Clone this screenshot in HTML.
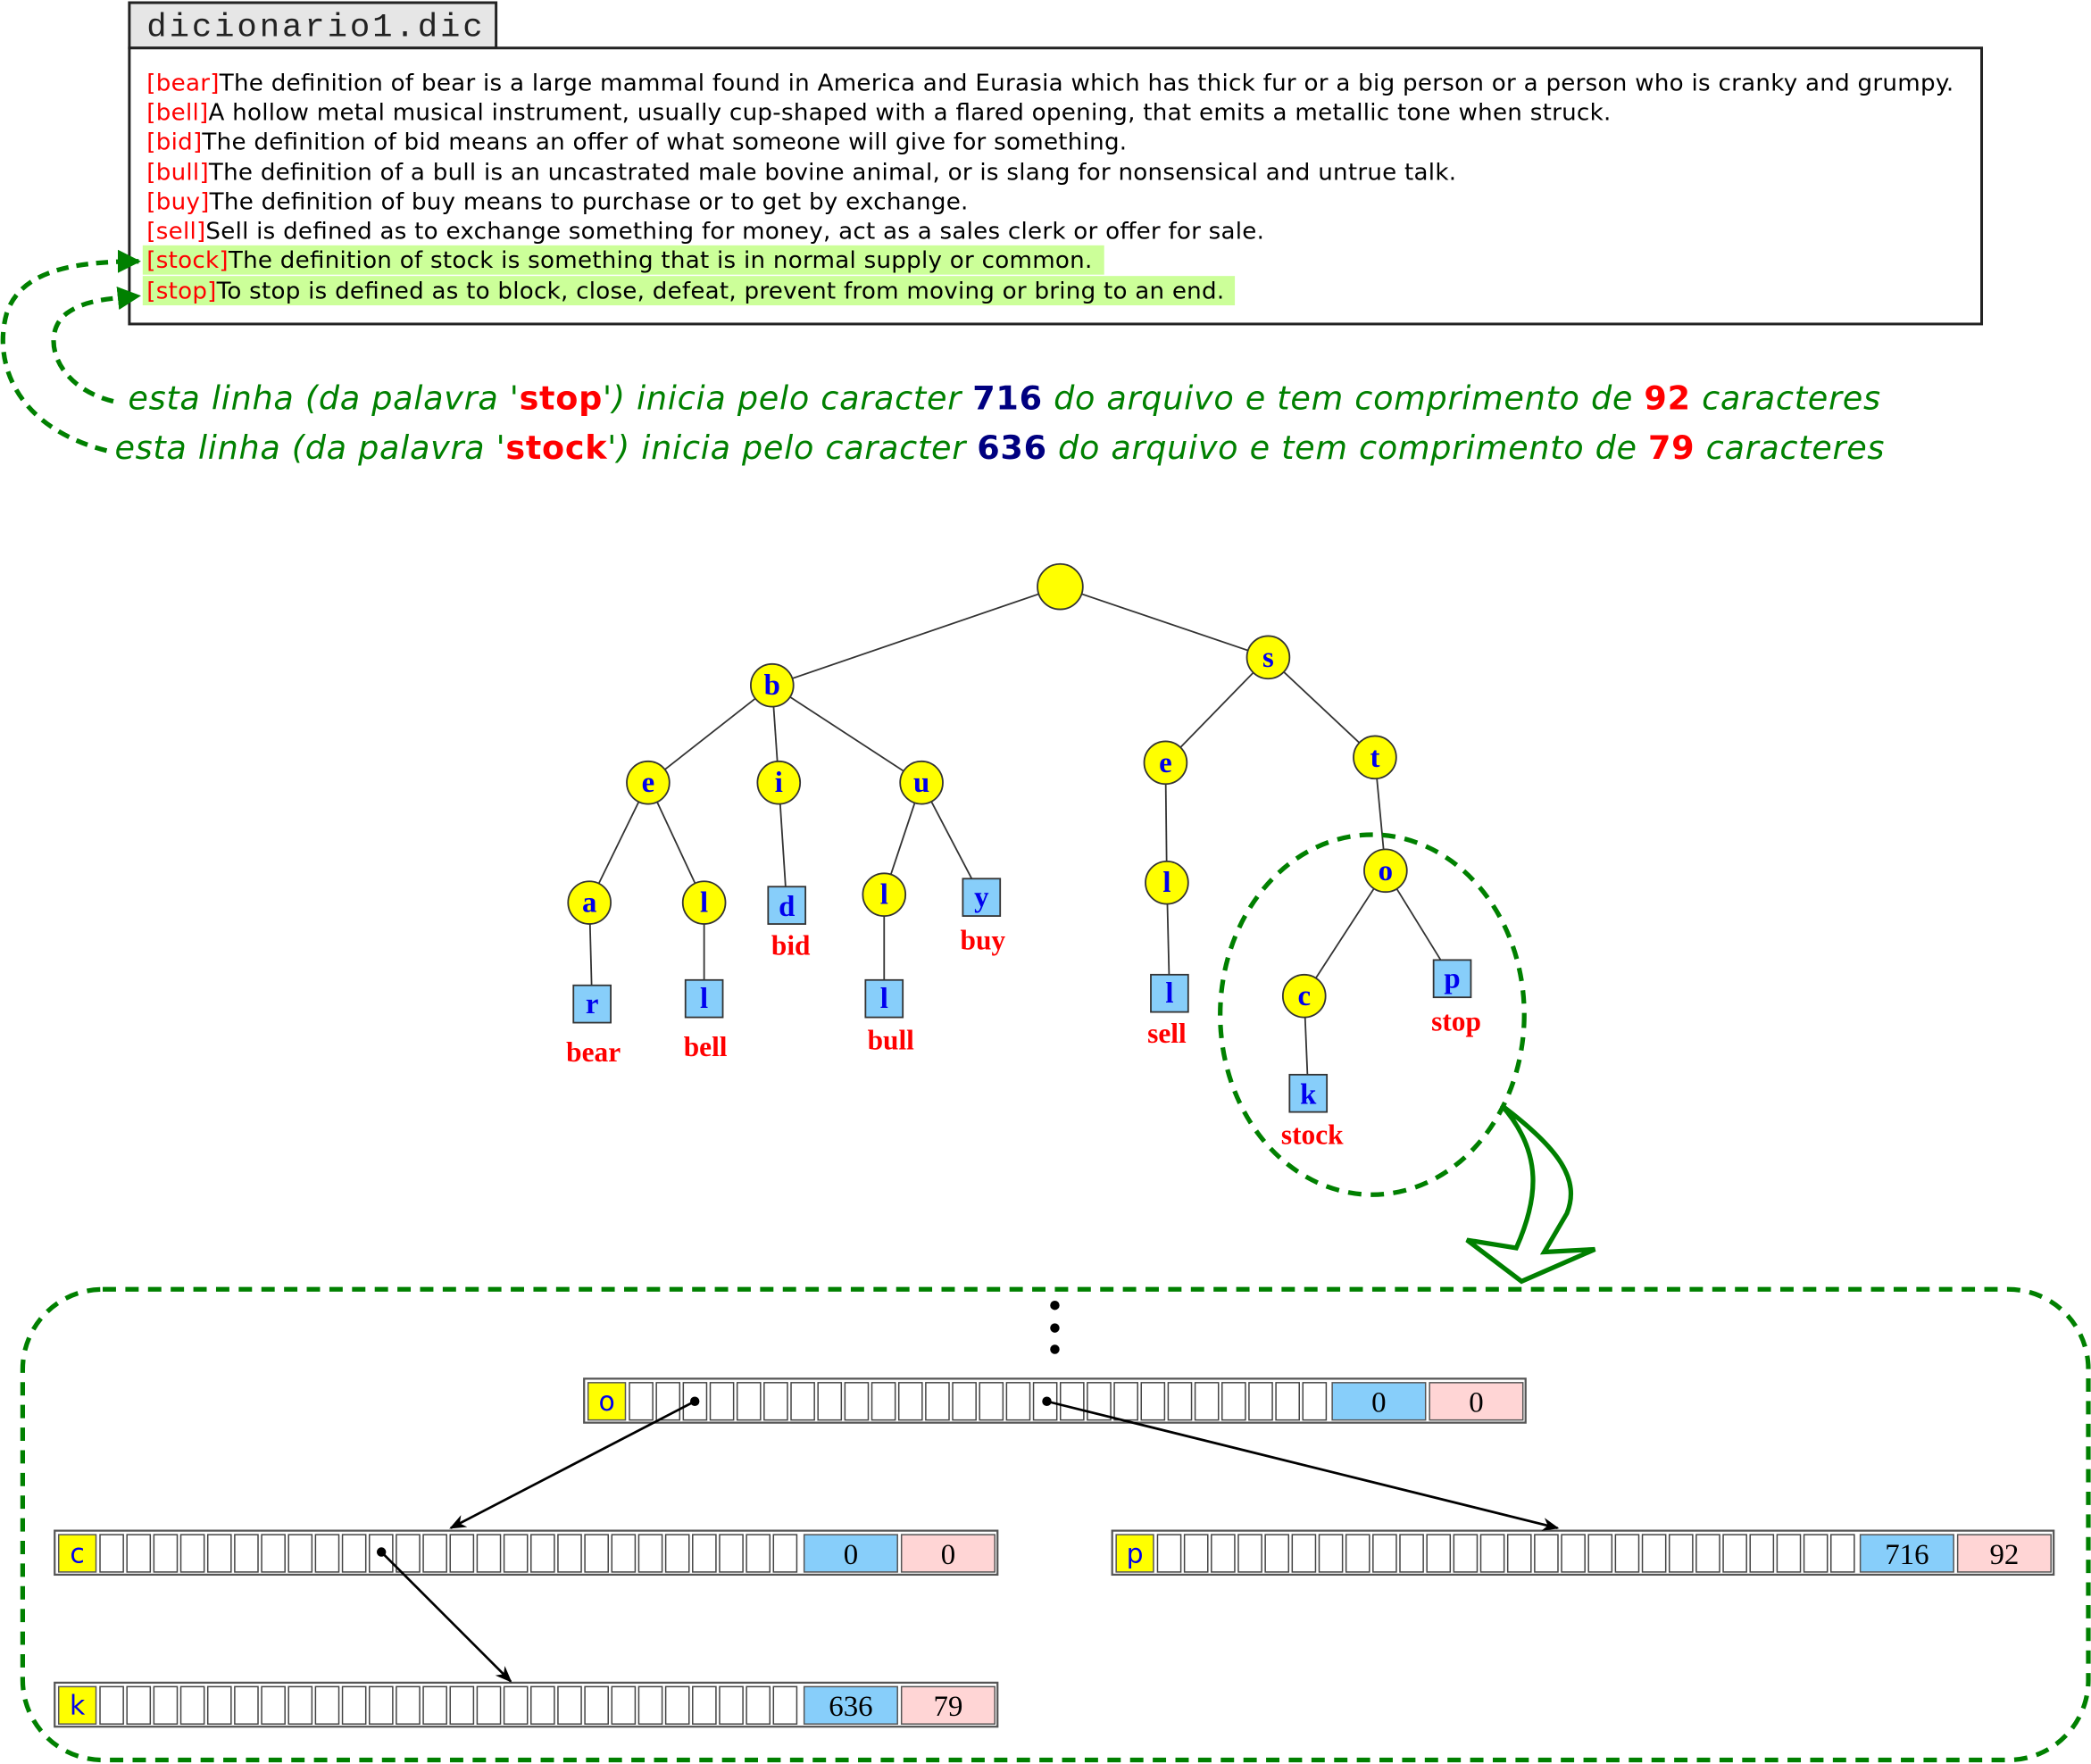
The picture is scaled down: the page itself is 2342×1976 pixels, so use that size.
<!DOCTYPE html>
<html><head><meta charset="utf-8"><style>html,body{margin:0;padding:0;background:#fff}svg{display:block}</style></head><body>
<svg xmlns="http://www.w3.org/2000/svg" width="2342" height="1976" viewBox="0 0 1568 1323" preserveAspectRatio="none">
<defs>
<marker id="ga" viewBox="0 0 10 10" refX="9" refY="5" markerWidth="5" markerHeight="5" orient="auto"><path d="M0,0 L10,5 L0,10 Z" fill="#008000"/></marker>
<marker id="ba" viewBox="0 0 10 10" refX="9" refY="5" markerWidth="7" markerHeight="7" orient="auto"><path d="M0,1 L10,5 L0,9 L3,5 Z" fill="#000"/></marker>
</defs>
<rect width="1568" height="1323" fill="#fff"/>
<rect x="97" y="2" width="275" height="34" fill="#e6e6e6" stroke="#222" stroke-width="2"/>
<text x="110" y="27" font-family="Liberation Mono, monospace" font-size="25" fill="#222" textLength="252">dicionario1.dic</text>
<rect x="97" y="36" width="1389" height="207" fill="#fff" stroke="#222" stroke-width="2"/>
<rect x="107" y="184" width="721" height="22" fill="#ccff99"/>
<rect x="107" y="207" width="819" height="22" fill="#ccff99"/>
<g font-family="DejaVu Sans, sans-serif" font-size="17.5" fill="#000">
<text x="110" y="68" textLength="1355"><tspan fill="#f00">[bear]</tspan>The definition of bear is a large mammal found in America and Eurasia which has thick fur or a big person or a person who is cranky and grumpy.</text>
<text x="110" y="90" textLength="1098"><tspan fill="#f00">[bell]</tspan>A hollow metal musical instrument, usually cup-shaped with a flared opening, that emits a metallic tone when struck.</text>
<text x="110" y="112" textLength="735"><tspan fill="#f00">[bid]</tspan>The definition of bid means an offer of what someone will give for something.</text>
<text x="110" y="135" textLength="982"><tspan fill="#f00">[bull]</tspan>The definition of a bull is an uncastrated male bovine animal, or is slang for nonsensical and untrue talk.</text>
<text x="110" y="157" textLength="616"><tspan fill="#f00">[buy]</tspan>The definition of buy means to purchase or to get by exchange.</text>
<text x="110" y="179" textLength="838"><tspan fill="#f00">[sell]</tspan>Sell is defined as to exchange something for money, act as a sales clerk or offer for sale.</text>
<text x="110" y="201" textLength="709"><tspan fill="#f00">[stock]</tspan>The definition of stock is something that is in normal supply or common.</text>
<text x="110" y="224" textLength="808"><tspan fill="#f00">[stop]</tspan>To stop is defined as to block, close, defeat, prevent from moving or bring to an end.</text>
</g>
<path d="M85,301 C40,290 30,250 50,235 C65,224 85,224 104,222" fill="none" stroke="#008000" stroke-width="3.5" stroke-dasharray="9,6" marker-end="url(#ga)"/>
<path d="M80,338 C10,320 -5,270 5,235 C15,205 50,196 104,196" fill="none" stroke="#008000" stroke-width="3.5" stroke-dasharray="9,6" marker-end="url(#ga)"/>
<g font-family="DejaVu Sans, sans-serif" font-size="24.5" font-style="italic" fill="#008000">
<text x="96" y="307" textLength="1314">esta linha (da palavra '<tspan fill="#f00" font-weight="bold" font-style="normal">stop</tspan>') inicia pelo caracter <tspan fill="#000080" font-weight="bold" font-style="normal">716</tspan> do arquivo e tem comprimento de <tspan fill="#f00" font-weight="bold" font-style="normal">92</tspan> caracteres</text>
<text x="86" y="344" textLength="1327">esta linha (da palavra '<tspan fill="#f00" font-weight="bold" font-style="normal">stock</tspan>') inicia pelo caracter <tspan fill="#000080" font-weight="bold" font-style="normal">636</tspan> do arquivo e tem comprimento de <tspan fill="#f00" font-weight="bold" font-style="normal">79</tspan> caracteres</text>
</g>
<g stroke="#333" stroke-width="1.2">
<line x1="795" y1="440" x2="579" y2="514"/><line x1="795" y1="440" x2="951" y2="493"/>
<line x1="579" y1="514" x2="486" y2="587"/><line x1="579" y1="514" x2="584" y2="587"/><line x1="579" y1="514" x2="691" y2="587"/>
<line x1="951" y1="493" x2="874" y2="572"/><line x1="951" y1="493" x2="1031" y2="568"/>
<line x1="486" y1="587" x2="442" y2="677"/><line x1="486" y1="587" x2="528" y2="677"/>
<line x1="584" y1="587" x2="590" y2="679"/>
<line x1="691" y1="587" x2="663" y2="671"/><line x1="691" y1="587" x2="736" y2="673"/>
<line x1="874" y1="572" x2="875" y2="662"/><line x1="1031" y1="568" x2="1039" y2="653"/>
<line x1="442" y1="677" x2="444" y2="753"/><line x1="528" y1="677" x2="528" y2="749"/>
<line x1="663" y1="671" x2="663" y2="749"/><line x1="875" y1="662" x2="877" y2="745"/>
<line x1="1039" y1="653" x2="978" y2="747"/><line x1="1039" y1="653" x2="1089" y2="734"/>
<line x1="978" y1="747" x2="981" y2="820"/>
</g>
<g fill="#ffff00" stroke="#333" stroke-width="1.2">
<circle cx="795" cy="440" r="17"/><circle cx="579" cy="514" r="16"/><circle cx="951" cy="493" r="16"/>
<circle cx="486" cy="587" r="16"/><circle cx="584" cy="587" r="16"/><circle cx="691" cy="587" r="16"/>
<circle cx="874" cy="572" r="16"/><circle cx="1031" cy="568" r="16"/>
<circle cx="442" cy="677" r="16"/><circle cx="528" cy="677" r="16"/><circle cx="663" cy="671" r="16"/>
<circle cx="875" cy="662" r="16"/><circle cx="1039" cy="653" r="16"/><circle cx="978" cy="747" r="16"/>
</g>
<g fill="#87cefa" stroke="#333" stroke-width="1.2">
<rect x="576" y="665" width="28" height="28"/><rect x="722" y="659" width="28" height="28"/>
<rect x="430" y="739" width="28" height="28"/><rect x="514" y="735" width="28" height="28"/>
<rect x="649" y="735" width="28" height="28"/><rect x="863" y="731" width="28" height="28"/>
<rect x="1075" y="720" width="28" height="28"/><rect x="967" y="806" width="28" height="28"/>
</g>
<g font-family="Liberation Serif, serif" font-weight="bold" font-size="22" fill="#0000ee" text-anchor="middle">
<text x="579" y="521">b</text><text x="951" y="500">s</text><text x="486" y="594">e</text><text x="584" y="594">i</text><text x="691" y="594">u</text>
<text x="874" y="579">e</text><text x="1031" y="575">t</text><text x="442" y="684">a</text><text x="528" y="684">l</text><text x="663" y="678">l</text>
<text x="875" y="669">l</text><text x="1039" y="660">o</text><text x="978" y="754">c</text>
<text x="590" y="687">d</text><text x="736" y="680">y</text><text x="444" y="760">r</text><text x="528" y="756">l</text>
<text x="663" y="756">l</text><text x="877" y="752">l</text><text x="1089" y="741">p</text><text x="981" y="828">k</text>
</g>
<g font-family="Liberation Serif, serif" font-weight="bold" font-size="21" fill="#f00" text-anchor="middle">
<text x="445" y="796">bear</text><text x="529" y="792">bell</text><text x="593" y="716">bid</text><text x="737" y="712">buy</text>
<text x="668" y="787">bull</text><text x="875" y="782">sell</text><text x="1092" y="773">stop</text><text x="984" y="858">stock</text>
</g>
<ellipse cx="1029" cy="761" rx="114" ry="135" fill="none" stroke="#008000" stroke-width="3.5" stroke-dasharray="10,7"/>
<path d="M1126,829 C1170,862 1185,885 1175,910 L1158,939 L1196,937 L1141,961 L1100,930 L1137,936 C1153,900 1158,865 1126,829 Z" fill="#fff" stroke="#008000" stroke-width="3.5" stroke-linejoin="miter"/>
<rect x="17" y="967" width="1549" height="353" rx="60" fill="none" stroke="#008000" stroke-width="3.5" stroke-dasharray="10,7"/>
<circle cx="791" cy="979" r="3.5"/><circle cx="791" cy="996" r="3.5"/><circle cx="791" cy="1012" r="3.5"/>
<g font-family="Liberation Serif, serif" font-size="22" text-anchor="middle">
<rect x="438" y="1034" width="706" height="33" fill="#fff" stroke="#555" stroke-width="1.5"/>
<rect x="441" y="1037" width="28" height="28" fill="#ff0" stroke="#555"/>
<text x="455" y="1058" fill="#00e" font-family="DejaVu Sans, sans-serif" font-size="20">o</text>
<rect x="999" y="1037" width="70" height="28" fill="#87cefa" stroke="#555"/>
<rect x="1072" y="1037" width="70" height="28" fill="#ffd5d5" stroke="#555"/>
<text x="1034" y="1059">0</text><text x="1107" y="1059">0</text>
<rect x="41" y="1148" width="707" height="33" fill="#fff" stroke="#555" stroke-width="1.5"/>
<rect x="44" y="1151" width="28" height="28" fill="#ff0" stroke="#555"/>
<text x="58" y="1172" fill="#00e" font-family="DejaVu Sans, sans-serif" font-size="20">c</text>
<rect x="603" y="1151" width="70" height="28" fill="#87cefa" stroke="#555"/>
<rect x="676" y="1151" width="70" height="28" fill="#ffd5d5" stroke="#555"/>
<text x="638" y="1173">0</text><text x="711" y="1173">0</text>
<rect x="834" y="1148" width="706" height="33" fill="#fff" stroke="#555" stroke-width="1.5"/>
<rect x="837" y="1151" width="28" height="28" fill="#ff0" stroke="#555"/>
<text x="851" y="1172" fill="#00e" font-family="DejaVu Sans, sans-serif" font-size="20">p</text>
<rect x="1395" y="1151" width="70" height="28" fill="#87cefa" stroke="#555"/>
<rect x="1468" y="1151" width="70" height="28" fill="#ffd5d5" stroke="#555"/>
<text x="1430" y="1173">716</text><text x="1503" y="1173">92</text>
<rect x="41" y="1262" width="707" height="33" fill="#fff" stroke="#555" stroke-width="1.5"/>
<rect x="44" y="1265" width="28" height="28" fill="#ff0" stroke="#555"/>
<text x="58" y="1286" fill="#00e" font-family="DejaVu Sans, sans-serif" font-size="20">k</text>
<rect x="603" y="1265" width="70" height="28" fill="#87cefa" stroke="#555"/>
<rect x="676" y="1265" width="70" height="28" fill="#ffd5d5" stroke="#555"/>
<text x="638" y="1287">636</text><text x="711" y="1287">79</text>
</g>
<g fill="#fff" stroke="#444" stroke-width="1">
<rect x="472.0" y="1037" width="17.5" height="28"/><rect x="492.2" y="1037" width="17.5" height="28"/><rect x="512.4" y="1037" width="17.5" height="28"/><rect x="532.6" y="1037" width="17.5" height="28"/><rect x="552.8" y="1037" width="17.5" height="28"/><rect x="573.0" y="1037" width="17.5" height="28"/><rect x="593.2" y="1037" width="17.5" height="28"/><rect x="613.4" y="1037" width="17.5" height="28"/><rect x="633.6" y="1037" width="17.5" height="28"/><rect x="653.8" y="1037" width="17.5" height="28"/><rect x="674.0" y="1037" width="17.5" height="28"/><rect x="694.2" y="1037" width="17.5" height="28"/><rect x="714.4" y="1037" width="17.5" height="28"/><rect x="734.6" y="1037" width="17.5" height="28"/><rect x="754.8" y="1037" width="17.5" height="28"/><rect x="775.0" y="1037" width="17.5" height="28"/><rect x="795.2" y="1037" width="17.5" height="28"/><rect x="815.4" y="1037" width="17.5" height="28"/><rect x="835.6" y="1037" width="17.5" height="28"/><rect x="855.8" y="1037" width="17.5" height="28"/><rect x="876.0" y="1037" width="17.5" height="28"/><rect x="896.2" y="1037" width="17.5" height="28"/><rect x="916.4" y="1037" width="17.5" height="28"/><rect x="936.6" y="1037" width="17.5" height="28"/><rect x="956.8" y="1037" width="17.5" height="28"/><rect x="977.0" y="1037" width="17.5" height="28"/>
<rect x="75.0" y="1151" width="17.5" height="28"/><rect x="95.2" y="1151" width="17.5" height="28"/><rect x="115.4" y="1151" width="17.5" height="28"/><rect x="135.6" y="1151" width="17.5" height="28"/><rect x="155.8" y="1151" width="17.5" height="28"/><rect x="176.0" y="1151" width="17.5" height="28"/><rect x="196.2" y="1151" width="17.5" height="28"/><rect x="216.4" y="1151" width="17.5" height="28"/><rect x="236.6" y="1151" width="17.5" height="28"/><rect x="256.8" y="1151" width="17.5" height="28"/><rect x="277.0" y="1151" width="17.5" height="28"/><rect x="297.2" y="1151" width="17.5" height="28"/><rect x="317.4" y="1151" width="17.5" height="28"/><rect x="337.6" y="1151" width="17.5" height="28"/><rect x="357.8" y="1151" width="17.5" height="28"/><rect x="378.0" y="1151" width="17.5" height="28"/><rect x="398.2" y="1151" width="17.5" height="28"/><rect x="418.4" y="1151" width="17.5" height="28"/><rect x="438.6" y="1151" width="17.5" height="28"/><rect x="458.8" y="1151" width="17.5" height="28"/><rect x="479.0" y="1151" width="17.5" height="28"/><rect x="499.2" y="1151" width="17.5" height="28"/><rect x="519.4" y="1151" width="17.5" height="28"/><rect x="539.6" y="1151" width="17.5" height="28"/><rect x="559.8" y="1151" width="17.5" height="28"/><rect x="580.0" y="1151" width="17.5" height="28"/>
<rect x="868.0" y="1151" width="17.5" height="28"/><rect x="888.2" y="1151" width="17.5" height="28"/><rect x="908.4" y="1151" width="17.5" height="28"/><rect x="928.6" y="1151" width="17.5" height="28"/><rect x="948.8" y="1151" width="17.5" height="28"/><rect x="969.0" y="1151" width="17.5" height="28"/><rect x="989.2" y="1151" width="17.5" height="28"/><rect x="1009.4" y="1151" width="17.5" height="28"/><rect x="1029.6" y="1151" width="17.5" height="28"/><rect x="1049.8" y="1151" width="17.5" height="28"/><rect x="1070.0" y="1151" width="17.5" height="28"/><rect x="1090.2" y="1151" width="17.5" height="28"/><rect x="1110.4" y="1151" width="17.5" height="28"/><rect x="1130.6" y="1151" width="17.5" height="28"/><rect x="1150.8" y="1151" width="17.5" height="28"/><rect x="1171.0" y="1151" width="17.5" height="28"/><rect x="1191.2" y="1151" width="17.5" height="28"/><rect x="1211.4" y="1151" width="17.5" height="28"/><rect x="1231.6" y="1151" width="17.5" height="28"/><rect x="1251.8" y="1151" width="17.5" height="28"/><rect x="1272.0" y="1151" width="17.5" height="28"/><rect x="1292.2" y="1151" width="17.5" height="28"/><rect x="1312.4" y="1151" width="17.5" height="28"/><rect x="1332.6" y="1151" width="17.5" height="28"/><rect x="1352.8" y="1151" width="17.5" height="28"/><rect x="1373.0" y="1151" width="17.5" height="28"/>
<rect x="75.0" y="1265" width="17.5" height="28"/><rect x="95.2" y="1265" width="17.5" height="28"/><rect x="115.4" y="1265" width="17.5" height="28"/><rect x="135.6" y="1265" width="17.5" height="28"/><rect x="155.8" y="1265" width="17.5" height="28"/><rect x="176.0" y="1265" width="17.5" height="28"/><rect x="196.2" y="1265" width="17.5" height="28"/><rect x="216.4" y="1265" width="17.5" height="28"/><rect x="236.6" y="1265" width="17.5" height="28"/><rect x="256.8" y="1265" width="17.5" height="28"/><rect x="277.0" y="1265" width="17.5" height="28"/><rect x="297.2" y="1265" width="17.5" height="28"/><rect x="317.4" y="1265" width="17.5" height="28"/><rect x="337.6" y="1265" width="17.5" height="28"/><rect x="357.8" y="1265" width="17.5" height="28"/><rect x="378.0" y="1265" width="17.5" height="28"/><rect x="398.2" y="1265" width="17.5" height="28"/><rect x="418.4" y="1265" width="17.5" height="28"/><rect x="438.6" y="1265" width="17.5" height="28"/><rect x="458.8" y="1265" width="17.5" height="28"/><rect x="479.0" y="1265" width="17.5" height="28"/><rect x="499.2" y="1265" width="17.5" height="28"/><rect x="519.4" y="1265" width="17.5" height="28"/><rect x="539.6" y="1265" width="17.5" height="28"/><rect x="559.8" y="1265" width="17.5" height="28"/><rect x="580.0" y="1265" width="17.5" height="28"/>
</g>
<g stroke="#000" stroke-width="1.8" fill="none">
<line x1="521" y1="1051" x2="338" y2="1146" marker-end="url(#ba)"/>
<line x1="785" y1="1051" x2="1168" y2="1146" marker-end="url(#ba)"/>
<line x1="286" y1="1164" x2="383" y2="1261" marker-end="url(#ba)"/>
</g>
<circle cx="521" cy="1051" r="3.5"/><circle cx="785" cy="1051" r="3.5"/><circle cx="286" cy="1164" r="3.5"/>
</svg>
</body></html>
